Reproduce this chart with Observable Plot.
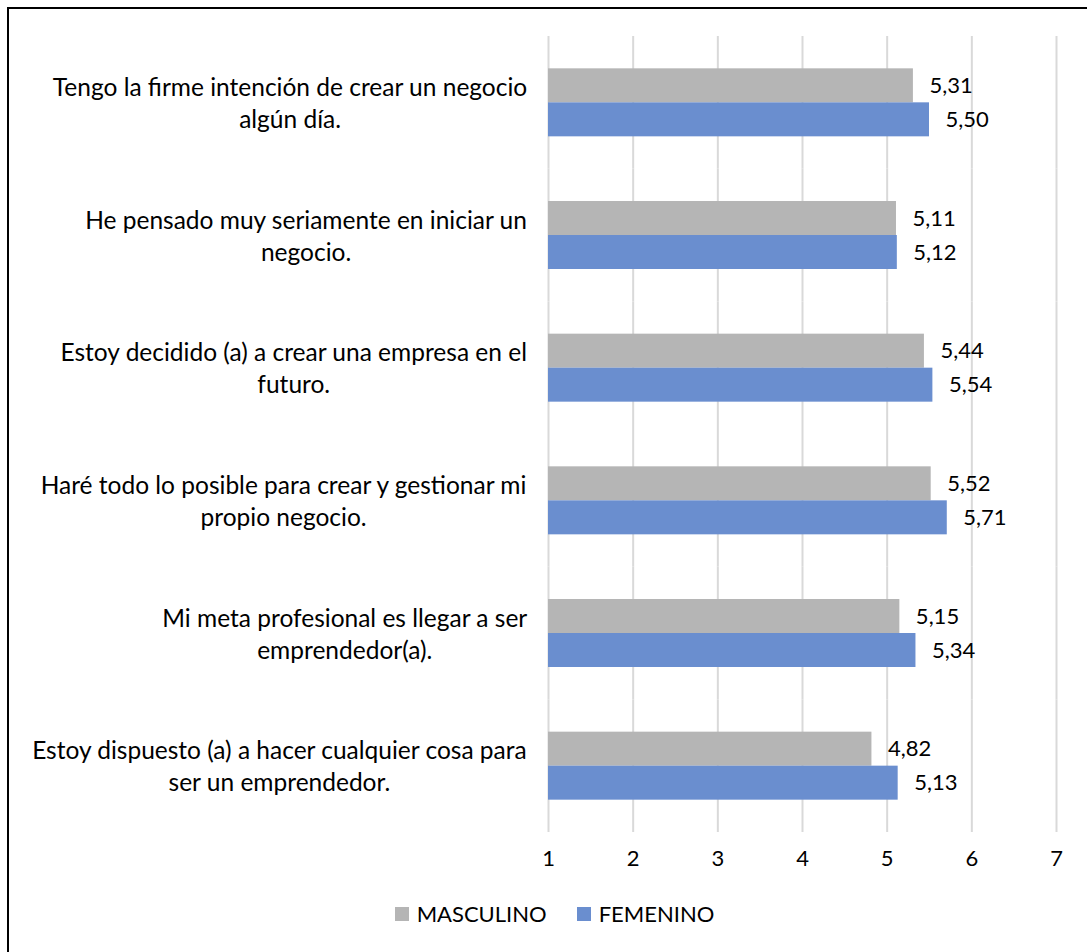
<!DOCTYPE html>
<html>
<head>
<meta charset="utf-8">
<script src="https://cdn.jsdelivr.net/npm/d3@7"></script>
<script src="https://cdn.jsdelivr.net/npm/@observablehq/plot@0.6"></script>
<style>
  html, body { margin: 0; padding: 0; background: #fff; }
  body { width: 1087px; height: 952px; overflow: hidden; position: relative; font-family: Lato, sans-serif; }
  #frame { position: absolute; left: 7px; top: 7px; width: 1200px; height: 1100px; border-left: 2px solid #000; border-top: 2px solid #000; box-sizing: border-box; pointer-events: none; }
  #chart { position: absolute; left: 0; top: 0; }
  #legend { position: absolute; left: 0; top: 900px; width: 1087px; display: flex; justify-content: center; align-items: center; gap: 30px; font-size: 22px; color: #000; padding-left: 22px; box-sizing: border-box; }
  .item { display: flex; align-items: center; gap: 8px; }
  .sw { width: 14px; height: 14px; display: inline-block; }
</style>
</head>
<body>
<div id="chart"></div>
<div id="legend"></div>
<div id="frame"></div>
<script>
const categories = [
  "Tengo la firme intención de crear un negocio\nalgún día.",
  "He pensado muy seriamente en iniciar un\nnegocio.",
  "Estoy decidido (a) a crear una empresa en el\nfuturo.",
  "Haré todo lo posible para crear y gestionar mi\npropio negocio.",
  "Mi meta profesional es llegar a ser\nemprendedor(a).",
  "Estoy dispuesto (a) a hacer cualquier cosa para\nser un emprendedor."
];
const series = ["MASCULINO", "FEMENINO"];
const masculino = [5.31, 5.11, 5.44, 5.52, 5.15, 4.82];
const femenino = [5.50, 5.12, 5.54, 5.71, 5.34, 5.13];
const xTicks = [1, 2, 3, 4, 5, 6, 7];
const colors = ["#b5b5b5", "#6a8ecf"];

const FONT = "Lato, sans-serif";
const FS = 22;
const LFS = 24.5;

const data = [];
categories.forEach((c, i) => {
  data.push({cat: c, series: "MASCULINO", value: masculino[i]});
  data.push({cat: c, series: "FEMENINO", value: femenino[i]});
});
const fmt = v => v.toFixed(2).replace(".", ",");

const canvas = document.createElement("canvas");
const ctx = canvas.getContext("2d");
ctx.font = `${LFS}px Lato`;
const labelMarks = categories.map(c => {
  const w = Math.max(...c.split("\n").map(l => ctx.measureText(l).width));
  return Plot.text([{cat: c}], {
    fy: "cat", text: "cat", frameAnchor: "left", textAnchor: "middle",
    dx: -21 - w / 2, dy: -1, lineHeight: 1.31, fontSize: LFS, fill: "#000"
  });
});

const chart = Plot.plot({
  width: 1087,
  height: 882,
  marginLeft: 548,
  marginRight: 31,
  marginTop: 36,
  marginBottom: 50,
  style: {fontFamily: FONT, fontSize: FS + "px", color: "#000", background: "transparent"},
  x: {domain: [1, 7], axis: null, label: null},
  fy: {domain: categories, padding: 0, round: false, axis: null, label: null},
  y: {domain: series, paddingInner: 0, paddingOuter: 0.951, round: false, axis: null, label: null},
  color: {domain: series, range: colors},
  marks: [
    Plot.gridX(xTicks, {stroke: "#d9d9d9", strokeOpacity: 1, strokeWidth: 2}),
    Plot.barX(data, {fy: "cat", y: "series", x1: 1, x2: "value", fill: "series"}),
    Plot.text(data, {fy: "cat", y: "series", x: "value", text: d => fmt(d.value), textAnchor: "start", dx: 16, fontSize: FS, fill: "#000"}),
    Plot.axisX(xTicks, {tickSize: 0, tickPadding: 18, fontSize: FS, label: null, tickFormat: d => String(d)}),
    ...labelMarks
  ]
});
document.getElementById("chart").appendChild(chart);

const legend = document.getElementById("legend");
series.forEach((s, i) => {
  const item = document.createElement("div");
  item.className = "item";
  const sw = document.createElement("span");
  sw.className = "sw";
  sw.style.background = colors[i];
  const t = document.createElement("span");
  t.textContent = s;
  item.appendChild(sw);
  item.appendChild(t);
  legend.appendChild(item);
});
</script>
</body>
</html>
